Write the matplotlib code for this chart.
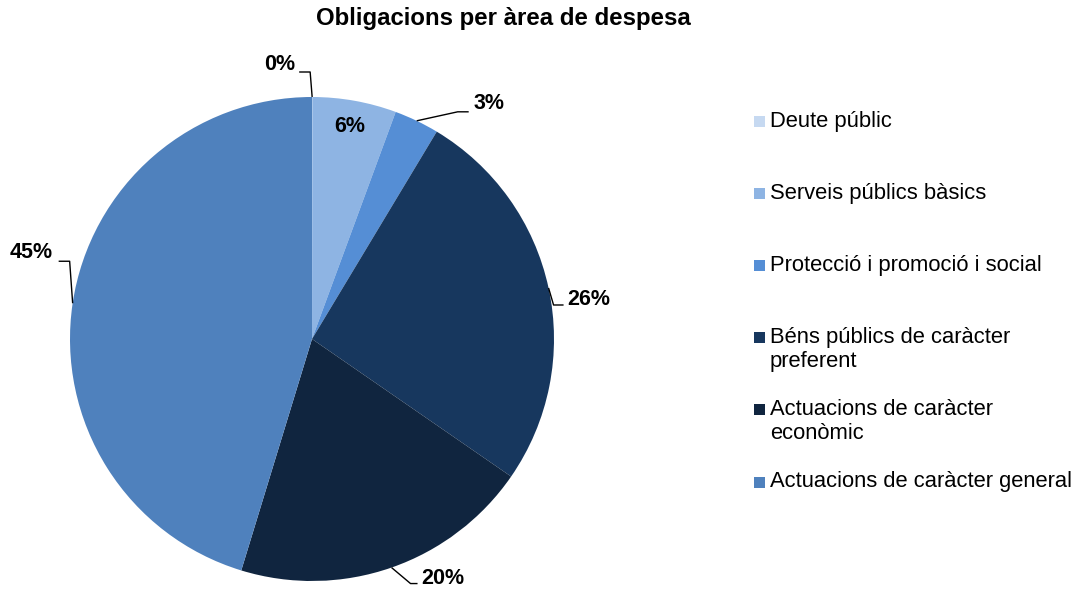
import matplotlib
matplotlib.use('Agg')
import matplotlib.pyplot as plt
import numpy as np
from matplotlib.patches import Rectangle

# ---------------- data ----------------
categories = ["Deute públic", "Serveis públics bàsics", "Protecció i promoció i social",
              "Béns públics de caràcter preferent", "Actuacions de caràcter econòmic",
              "Actuacions de caràcter general"]
legend_labels = ["Deute públic", "Serveis públics bàsics", "Protecció i promoció i social",
                 "Béns públics de caràcter\npreferent", "Actuacions de caràcter\neconòmic",
                 "Actuacions de caràcter general"]
values = [0.02, 5.6, 3.0, 26.0, 20.1, 45.28]
title = "Obligacions per àrea de despesa"

# ---------------- style ----------------
colors = ["#C6D9F1", "#8EB4E3", "#558ED5", "#17375E", "#10253F", "#4F81BD"]
plt.rcParams['font.family'] = ['Liberation Sans', 'DejaVu Sans']

W, H = 1084, 589
fig = plt.figure(figsize=(W / 100, H / 100), dpi=100)
ax = fig.add_axes([0, 0, 1, 1])
cx, cy, R = 312, 339, 242  # pie centre / radius in pixels

wedges, _ = ax.pie(values, colors=colors, startangle=90, counterclock=False,
                   radius=1, center=(0, 0), wedgeprops=dict(linewidth=0))
ax.set_xlim(-cx / R, (W - cx) / R)
ax.set_ylim(-(H - cy) / R, cy / R)
ax.set_aspect('equal')
ax.axis('off')

# label layout: (elbow_dx, elbow_dy, end_dx, text_dx, text_dy) in px, y downwards; None = inside
label_layout = [
    (-2, -25, -13, -17, -33),
    None,
    (41, -9, 52, 57, -17),
    (5, 17, 15, 19, 12),
    (19, 16, 26, 30, 11),
    (-3, -42, -14, -20, -51),
]
lfs = 15.5
for w, v, lay in zip(wedges, values, label_layout):
    th = np.deg2rad((w.theta1 + w.theta2) / 2)
    txt = f"{v:.0f}%"
    if lay is None:
        r = 0.89
        ax.text(r * np.cos(th), r * np.sin(th), txt, ha='center', va='center',
                fontsize=lfs, fontweight='bold', color='black')
        continue
    ex, ey = np.cos(th), np.sin(th)
    edx, edy, endx, tdx, tdy = lay
    xs = [ex, ex + edx / R, ex + endx / R]
    ys = [ey, ey - edy / R, ey - edy / R]
    ax.plot(xs, ys, color='black', lw=1.0, solid_capstyle='butt')
    ha = 'left' if tdx > 0 else 'right'
    ax.text(ex + tdx / R, ey - tdy / R, txt, ha=ha, va='center',
            fontsize=lfs, fontweight='bold', color='black')

# ---------------- title ----------------
fig.text(503 / W, 1 - 18 / H, title, ha='center', va='center',
         fontsize=17.3, fontweight='bold')

# ---------------- legend (manual) ----------------
leg_x_box, leg_x_txt = 754, 770
row_y0, row_step, line_step = 121, 72.2, 24
box = 11
for i, (lab, col) in enumerate(zip(legend_labels, colors)):
    y = row_y0 + i * row_step
    fig.patches.append(Rectangle((leg_x_box / W, 1 - (y + box / 2) / H), box / W, box / H,
                                 transform=fig.transFigure, facecolor=col, edgecolor='none'))
    for j, line in enumerate(lab.split("\n")):
        fig.text(leg_x_txt / W, 1 - (y + j * line_step) / H, line, ha='left', va='center',
                 fontsize=15.8, color='black')

fig.savefig('out.png', dpi=100)
